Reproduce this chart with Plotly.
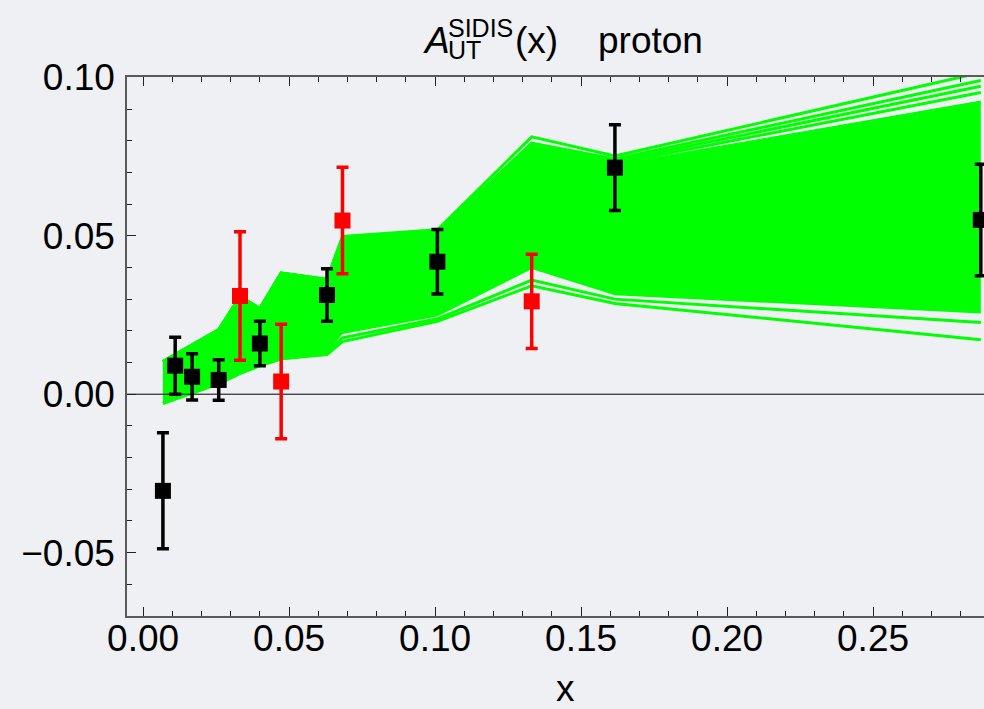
import plotly.graph_objects as go

# ---------------------------------------------------------------------------
# Data
# ---------------------------------------------------------------------------
# x values at which the replica curves are evaluated
x_nodes = [0.0068, 0.0110, 0.0168, 0.0259, 0.0332, 0.0400, 0.0473,
           0.0630, 0.0683, 0.1008, 0.1331, 0.1616, 0.2869]

# envelope of the bulk of the replica band
band_upper = [0.0103, 0.0125, 0.0155, 0.0203, 0.0308, 0.0270, 0.0382,
              0.0362, 0.0490, 0.0510, 0.0772, 0.0725, 0.0925]
band_lower = [-0.0029, -0.0015, 0.0003, 0.0033, 0.0066, 0.0090, 0.0112,
              0.0130, 0.0190, 0.0245, 0.0395, 0.0312, 0.0255]

# individual replicas that stand out above / below the bulk
replica_top_1 = [0.0103, 0.0125, 0.0155, 0.0203, 0.0308, 0.0270, 0.0382,
                 0.0362, 0.0498, 0.0519, 0.0812, 0.0752, 0.1015]
replica_top_2 = [0.0103, 0.0125, 0.0155, 0.0203, 0.0308, 0.0270, 0.0382,
                 0.0362, 0.0494, 0.0515, 0.0792, 0.0742, 0.0990]
replica_top_3 = [0.0103, 0.0125, 0.0155, 0.0203, 0.0308, 0.0270, 0.0382,
                 0.0362, 0.0492, 0.0512, 0.0782, 0.0735, 0.0972]
replica_top_4 = [0.0103, 0.0125, 0.0155, 0.0203, 0.0308, 0.0270, 0.0382,
                 0.0362, 0.0490, 0.0510, 0.0776, 0.0728, 0.0952]
replica_low_1 = [-0.0029, -0.0015, 0.0003, 0.0033, 0.0066, 0.0090, 0.0112,
                 0.0125, 0.0166, 0.0230, 0.0342, 0.0286, 0.0172]
replica_low_2 = [-0.0029, -0.0015, 0.0003, 0.0033, 0.0066, 0.0090, 0.0112,
                 0.0128, 0.0178, 0.0238, 0.0360, 0.0300, 0.0226]

# measured asymmetries (two data sets)
black_x = [0.0068, 0.0110, 0.0168, 0.0259, 0.0400, 0.0630, 0.1008, 0.1616, 0.2869]
black_y = [-0.0305, 0.0090, 0.0055, 0.0045, 0.0160, 0.0313, 0.0418, 0.0715, 0.0550]
black_err = [0.0183, 0.0090, 0.0073, 0.0064, 0.0070, 0.0083, 0.0102, 0.0135, 0.0176]

red_x = [0.0332, 0.0473, 0.0683, 0.1331]
red_y = [0.0310, 0.0040, 0.0548, 0.0293]
red_err = [0.0203, 0.0181, 0.0168, 0.0149]

# axis ranges and tick labels
x_range = [-0.0055, 0.2880]
y_range = [-0.07, 0.1001]
x_ticks = [0.00, 0.05, 0.10, 0.15, 0.20, 0.25]
y_ticks = [-0.05, 0.00, 0.05, 0.10]

# ---------------------------------------------------------------------------
# Styling
# ---------------------------------------------------------------------------
W, H = 984, 709
ML, MR, MT, MB = 127, 0, 77, 93
BG = "#eff0f4"
GREEN = "#00ff00"
FONT = "Liberation Sans, Arial, Helvetica, sans-serif"


def px_x(p):
    return (p - ML) / (W - ML - MR)


def px_y(p):
    return (H - MB - p) / (H - MB - MT)


fig = go.Figure()

# replica band: filled envelope
fig.add_trace(go.Scatter(x=x_nodes, y=band_lower, mode="lines",
                         line=dict(color=GREEN, width=0), hoverinfo="skip"))
fig.add_trace(go.Scatter(x=x_nodes, y=band_upper, mode="lines",
                         line=dict(color=GREEN, width=1), fill="tonexty",
                         fillcolor=GREEN, hoverinfo="skip"))

# outlying replicas drawn as separate curves
for rep in (replica_top_4, replica_top_3, replica_top_2, replica_top_1,
            replica_low_2, replica_low_1):
    fig.add_trace(go.Scatter(x=x_nodes, y=rep, mode="lines",
                             line=dict(color=GREEN, width=3), hoverinfo="skip"))

# horizontal zero line
fig.add_trace(go.Scatter(x=x_range, y=[0, 0], mode="lines",
                         line=dict(color="black", width=1), hoverinfo="skip"))

# data points with error bars
fig.add_trace(go.Scatter(
    x=black_x, y=black_y, mode="markers",
    marker=dict(symbol="square", size=16, color="black"),
    error_y=dict(type="data", array=black_err, color="black",
                 thickness=3.5, width=6),
))
fig.add_trace(go.Scatter(
    x=red_x, y=red_y, mode="markers",
    marker=dict(symbol="square", size=16, color="#ff0000"),
    error_y=dict(type="data", array=red_err, color="#ff0000",
                 thickness=3.5, width=6),
))

axis_common = dict(
    showline=True, linecolor="#5a5a5a", linewidth=1.5,
    ticks="inside", ticklen=9, tickwidth=1.3, tickcolor="#222222",
    showgrid=False, zeroline=False, tickformat=".2f",
    tickfont=dict(family=FONT, size=37, color="black"),
)

fig.update_xaxes(
    range=x_range, tickvals=x_ticks, mirror="ticks",
    minor=dict(ticks="inside", ticklen=5, dtick=0.01, tick0=0,
               tickwidth=1.2, tickcolor="#222222", showgrid=False),
    ticklabelstandoff=-11,
    **axis_common,
)
fig.update_yaxes(
    range=y_range, tickvals=y_ticks, mirror=False,
    minor=dict(ticks="inside", ticklen=5, dtick=0.01, tick0=0,
               tickwidth=1.2, tickcolor="#222222", showgrid=False),
    ticklabelstandoff=3,
    **axis_common,
)

# title: A_UT^SIDIS(x)   proton
title_font = dict(family=FONT, size=37, color="black")
small_font = dict(family=FONT, size=25, color="black")
annotations = [
    dict(text="<i>A</i>", x=px_x(421), y=px_y(40), font=title_font,
         xanchor="left", yanchor="middle"),
    dict(text="SIDIS", x=px_x(446), y=px_y(28), font=small_font,
         xanchor="left", yanchor="middle"),
    dict(text="UT", x=px_x(446), y=px_y(50), font=small_font,
         xanchor="left", yanchor="middle"),
    dict(text="(x)", x=px_x(513), y=px_y(40), font=title_font,
         xanchor="left", yanchor="middle"),
    dict(text="proton", x=px_x(596), y=px_y(40), font=title_font,
         xanchor="left", yanchor="middle"),
    dict(text="x", x=px_x(565), y=px_y(688), font=title_font,
         xanchor="center", yanchor="middle"),
]
for a in annotations:
    a.update(xref="paper", yref="paper", showarrow=False)

fig.update_layout(
    width=W, height=H,
    margin=dict(l=ML, r=MR, t=MT, b=MB, pad=0),
    paper_bgcolor=BG, plot_bgcolor=BG,
    showlegend=False,
    annotations=annotations,
    font=dict(family=FONT),
)

fig.write_html("out.html")
